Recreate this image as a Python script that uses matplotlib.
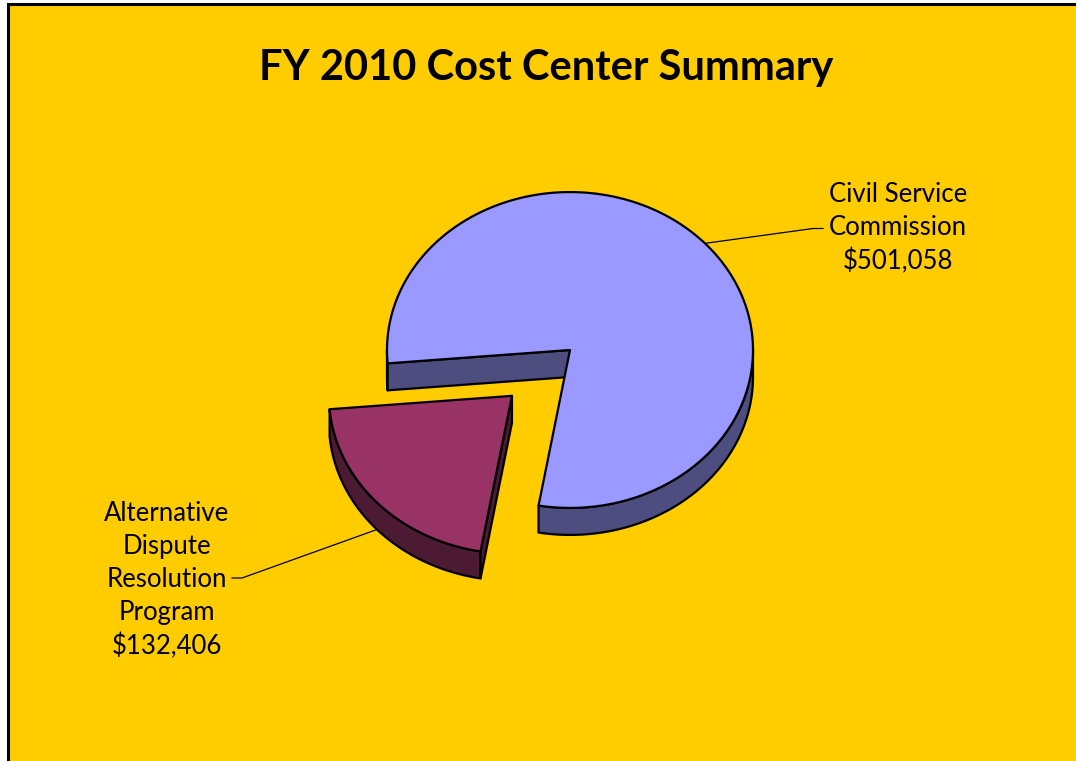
import matplotlib.pyplot as plt
from matplotlib.patches import Polygon, Rectangle
import numpy as np

# Cost centers and FY 2010 amounts
labels = ['Civil Service\nCommission', 'Alternative\nDispute\nResolution\nProgram']
amounts = [501058, 132406]
top_colors = ['#9999FF', '#993366']
side_colors = ['#4D4D80', '#4D1A33']
explode = [0.0, 0.43]

start_angle = 260.1   # degrees, slices go counter-clockwise
tilt = 0.863          # vertical squash of the pie top
depth = 0.1475        # thickness of the pie

W, H = 1076, 761
fig = plt.figure(figsize=(W / 100, H / 100), dpi=100, facecolor='white')

# yellow panel with a black frame on the top and left
fig.patches.append(Rectangle((7.5 / W, -0.1), 1.2, 1.1 - 4.5 / H, transform=fig.transFigure,
                             facecolor='#FFCC00', edgecolor='black', linewidth=2.2, zorder=-5))

ax = fig.add_axes([0, 0, 1, 1])
ax.set_xlim(-570 / 183, (W - 570) / 183)
ax.set_ylim((350 - H) / 183, 350 / 183)
ax.axis('off')


def rim(ox, oy, t, dz=0.0):
    t = np.radians(t)
    return np.column_stack([ox + np.cos(t), oy + tilt * np.sin(t) - dz])


fracs = np.array(amounts) / np.sum(amounts)
edges = start_angle + 360 * np.concatenate([[0], np.cumsum(fracs)])

label_pos = [(898, 228), (167, 580)]
for i in range(len(amounts)):
    a0, a1 = edges[i], edges[i + 1]
    mid = np.radians((a0 + a1) / 2)
    ox = explode[i] * np.cos(mid)
    oy = explode[i] * tilt * np.sin(mid)
    kw = dict(edgecolor='black', linewidth=1.6, joinstyle='round')

    # curved outer wall, front-facing part only
    for n in range(-1, 3):
        lo, hi = max(a0, 180 + 360 * n), min(a1, 360 + 360 * n)
        if hi > lo:
            t = np.linspace(lo, hi, 120)
            pts = np.vstack([rim(ox, oy, t), rim(ox, oy, t[::-1], depth)])
            ax.add_patch(Polygon(pts, facecolor=side_colors[i], **kw))

    # radial cut faces
    for a, show in [(a0, np.cos(np.radians(a0)) > 0), (a1, np.cos(np.radians(a1)) < 0)]:
        if show:
            r = rim(ox, oy, [a])[0]
            pts = [(ox, oy), r, (r[0], r[1] - depth), (ox, oy - depth)]
            ax.add_patch(Polygon(pts, facecolor=side_colors[i], **kw))

    # top face
    t = np.linspace(a0, a1, 300)
    pts = np.vstack([[[ox, oy]], rim(ox, oy, t)])
    ax.add_patch(Polygon(pts, facecolor=top_colors[i], zorder=3, **kw))

    # leader line and label
    anchor = rim(ox, oy, [np.degrees(mid)], depth if np.sin(mid) < 0 else 0.0)[0]
    lx, ly = label_pos[i]
    tx = (lx - 570) / 183
    ty = (350 - ly) / 183
    side = 1 if tx > anchor[0] else -1
    txt = f'{labels[i]}\n${amounts[i]:,}'
    if side > 0:
        ex, ey = tx - 75 / 183, (350 - 228.5) / 183
    else:
        ex, ey = tx + 65 / 183, (350 - 578) / 183
    ax.plot([anchor[0], ex - side * 10 / 183, ex], [anchor[1], ey, ey],
            color='black', linewidth=0.9, zorder=4)
    ax.text(tx, ty, txt, ha='center', va='center', fontsize=18.5, family='Lato',
            linespacing=1.40, zorder=5)

fig.text(546 / W, 1 - 68 / H, 'FY 2010 Cost Center Summary', ha='center', va='center',
         fontsize=30, fontweight='bold', family='Lato')

fig.savefig('out.png', dpi=100, facecolor=fig.get_facecolor())
